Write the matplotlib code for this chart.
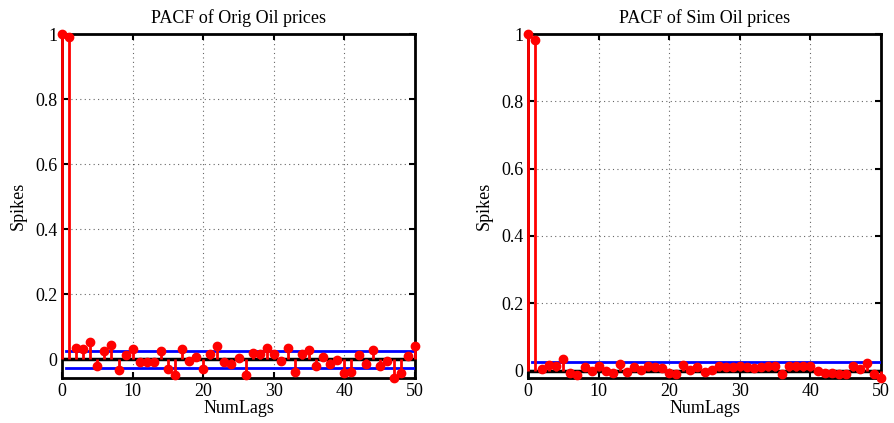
import matplotlib
matplotlib.use("Agg")
import matplotlib.pyplot as plt
import numpy as np

plt.rcParams["font.family"] = ["Liberation Serif", "DejaVu Serif"]

lags = np.arange(0, 51)

# PACF values
pacf_orig = [1.0, 0.99, 0.035, 0.032, 0.053, -0.021, 0.027, 0.044, -0.031, 0.015,
             0.032, -0.009, -0.009, -0.009, 0.027, -0.029, -0.048, 0.032, -0.004, 0.007,
             -0.029, 0.017, 0.040, -0.009, -0.015, 0.004, -0.048, 0.020, 0.017, 0.034,
             0.017, -0.004, 0.035, -0.039, 0.017, 0.030, -0.019, 0.009, -0.014, -0.002,
             -0.041, -0.039, 0.014, -0.014, 0.030, -0.019, -0.004, -0.057, -0.041, 0.012,
             0.042]
pacf_sim = [1.0, 0.982, 0.005, 0.018, 0.015, 0.033, -0.007, -0.012, 0.011, -0.002,
            0.013, -0.002, -0.007, 0.021, -0.005, 0.011, 0.001, 0.015, 0.011, 0.008,
            -0.007, -0.009, 0.018, 0.001, 0.010, -0.003, 0.001, 0.015, 0.011, 0.011,
            0.013, 0.011, 0.008, 0.011, 0.015, 0.015, -0.009, 0.015, 0.015, 0.013,
            0.015, -0.002, -0.007, -0.007, -0.009, -0.009, 0.015, 0.004, 0.023, -0.009,
            -0.022]
bound = 0.0255

titles = ["PACF of Orig Oil prices", "PACF of Sim Oil prices"]
yticks = [0, 0.2, 0.4, 0.6, 0.8, 1]
ytick_labels = ["0", "0.2", "0.4", "0.6", "0.8", "1"]
xticks = [0, 10, 20, 30, 40, 50]

fig = plt.figure(figsize=(8.95, 4.23), dpi=100)
positions = [[0.0693, 0.1064, 0.3944, 0.813], [0.59, 0.1064, 0.3944, 0.813]]

for pos, vals, title in zip(positions, [pacf_orig, pacf_sim], titles):
    ax = fig.add_axes(pos)
    ml, sl, bl = ax.stem(lags, vals, linefmt="r-", markerfmt="ro", basefmt="k-")
    plt.setp(sl, linewidth=2, zorder=4, clip_on=False)
    plt.setp(ml, markersize=6, zorder=5, clip_on=False)
    plt.setp(bl, linewidth=2.5, zorder=3)
    ax.plot([0.5, 50], [bound, bound], color="blue", lw=2, zorder=3.5)
    ax.plot([0.5, 50], [-bound, -bound], color="blue", lw=2, zorder=3.5)
    ax.set_xlim(0, 50)
    ax.set_ylim(min(vals), 1)
    ax.set_xticks(xticks)
    ax.set_yticks(yticks)
    ax.set_yticklabels(ytick_labels)
    ax.tick_params(direction="in", labelsize=13, width=1.5, length=4,
                   top=True, right=True)
    ax.grid(True, linestyle=(0, (1, 3)), color="black", linewidth=0.8, alpha=0.6)
    for s in ax.spines.values():
        s.set_linewidth(2)
    ax.set_title(title, fontsize=13, pad=8)
    ax.set_xlabel("NumLags", fontsize=13, labelpad=0)
    ax.set_ylabel("Spikes", fontsize=13, labelpad=6)

fig.savefig("out.png", dpi=100)
